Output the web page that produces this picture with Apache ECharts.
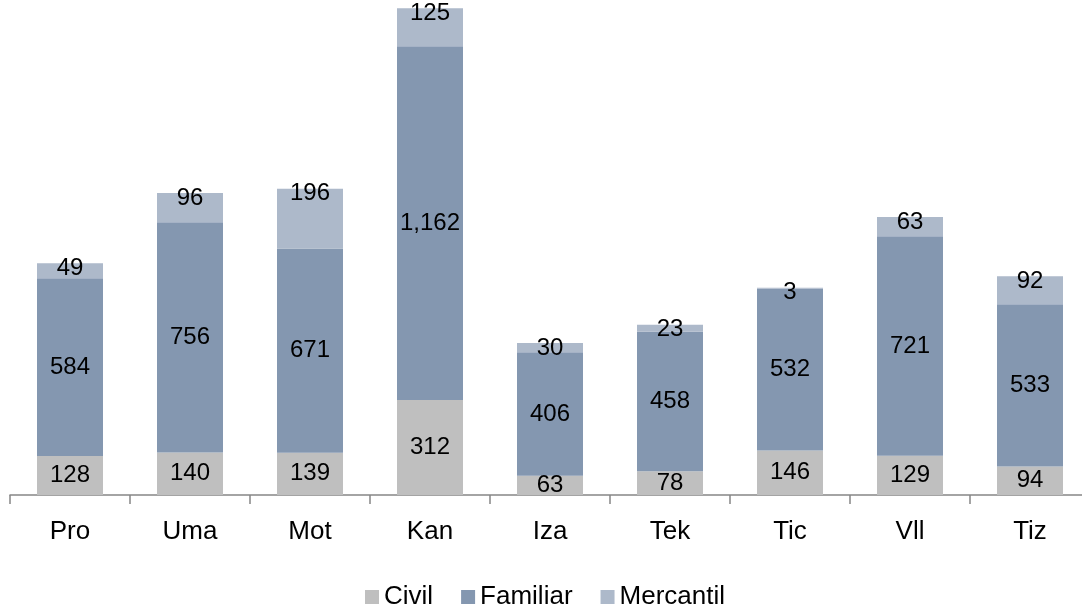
<!DOCTYPE html>
<html>
<head>
<meta charset="utf-8">
<script src="https://cdn.jsdelivr.net/npm/echarts@6/dist/echarts.min.js"></script>
<style>
  html, body { margin: 0; padding: 0; background: #fff; overflow: hidden; }
  #main { width: 1090px; height: 610px; }
</style>
</head>
<body>
<div id="main"></div>
<script>
const categories = ['Pro', 'Uma', 'Mot', 'Kan', 'Iza', 'Tek', 'Tic', 'Vll', 'Tiz'];
const civil = [128, 140, 139, 312, 63, 78, 146, 129, 94];
const familiar = [584, 756, 671, 1162, 406, 458, 532, 721, 533];
const mercantil = [49, 96, 196, 125, 30, 23, 3, 63, 92];

const fontFamily = '"Liberation Sans", Arial, sans-serif';

function fmt(p) {
  return p.value.toLocaleString('en-US');
}

window.onload = function () {
  const chartDom = document.getElementById('main');
  const myChart = echarts.init(chartDom);

  // the chart is 8px wider than the window so the last category runs off the edge
  const option = {
    animation: false,
    textStyle: { fontFamily: fontFamily },
    color: ['#bfbfbf', '#8497b0', '#adb9ca'],
    grid: { left: 10, right: 0, top: 8, bottom: 115, containLabel: false },
    legend: {
      bottom: 0,
      left: 'center',
      padding: 0,
      itemWidth: 14,
      itemHeight: 14,
      itemGap: 28,
      icon: 'rect',
      textStyle: { fontSize: 26, color: '#000', fontFamily: fontFamily },
      data: ['Civil', 'Familiar', 'Mercantil']
    },
    xAxis: {
      type: 'category',
      data: categories,
      axisLine: { lineStyle: { color: '#868686', width: 1.5 } },
      axisTick: { show: true, length: 9, lineStyle: { color: '#868686', width: 1.5 } },
      axisLabel: { fontSize: 26, color: '#000', margin: 24, fontFamily: fontFamily }
    },
    yAxis: {
      type: 'value',
      min: 0,
      max: 1600,
      show: false,
      splitLine: { show: false }
    },
    series: [
      {
        name: 'Civil',
        type: 'bar',
        stack: 'total',
        barWidth: '55%',
        data: civil,
        label: { show: true, position: 'inside', fontSize: 24, color: '#000', formatter: fmt }
      },
      {
        name: 'Familiar',
        type: 'bar',
        stack: 'total',
        data: familiar,
        label: { show: true, position: 'inside', fontSize: 24, color: '#000', formatter: fmt }
      },
      {
        name: 'Mercantil',
        type: 'bar',
        stack: 'total',
        data: mercantil,
        label: { show: true, position: 'insideTop', distance: -7, fontSize: 24, color: '#000', formatter: fmt }
      }
    ]
  };

  option && myChart.setOption(option);
};
</script>
</body>
</html>
